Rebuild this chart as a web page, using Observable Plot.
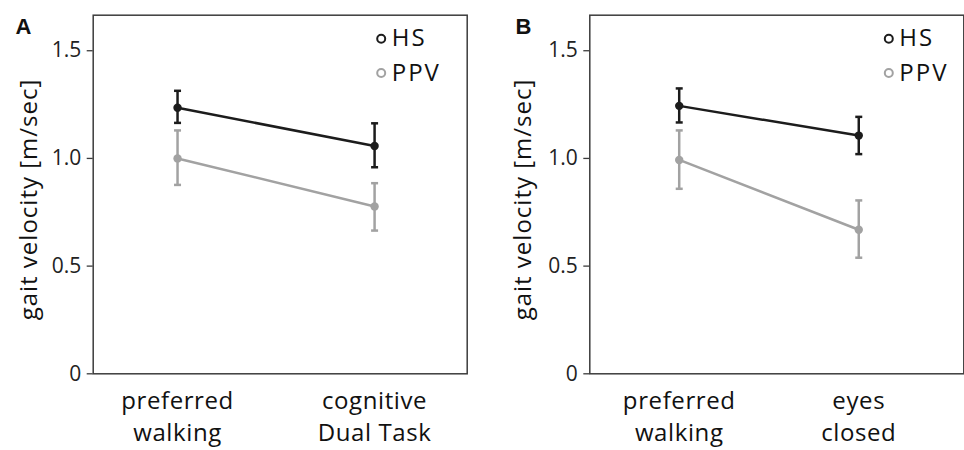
<!DOCTYPE html>
<html>
<head>
<meta charset="utf-8">
<script src="https://cdn.jsdelivr.net/npm/d3@7"></script>
<script src="https://cdn.jsdelivr.net/npm/@observablehq/plot@0.6"></script>
<style>
  html, body { margin: 0; padding: 0; background: white; }
  #wrap { position: relative; width: 964px; height: 450px; overflow: hidden; }
  #wrap > div { position: absolute; top: 0; }
  .ylab text { letter-spacing: 1px; }
  .xlab text { letter-spacing: 0.6px; }
  .leg text { letter-spacing: 2px; }
</style>
</head>
<body>
<div id="wrap"><div id="pa" style="left:0"></div><div id="pb" style="left:482px"></div></div>
<script>
// ---- data ----
const groups = ["HS", "PPV"];
const categoriesA = ["preferred\nwalking", "cognitive\nDual Task"];
const categoriesB = ["preferred\nwalking", "eyes\nclosed"];

const hsMeanA = [1.235, 1.058];
const hsLowA = [1.165, 0.959];
const hsHighA = [1.314, 1.163];
const ppvMeanA = [1.0, 0.777];
const ppvLowA = [0.877, 0.665];
const ppvHighA = [1.13, 0.885];

const hsMeanB = [1.244, 1.106];
const hsLowB = [1.167, 1.02];
const hsHighB = [1.325, 1.193];
const ppvMeanB = [0.993, 0.669];
const ppvLowB = [0.859, 0.539];
const ppvHighB = [1.13, 0.805];

const yTicks = [0, 0.5, 1.0, 1.5];
const yTickLabels = ["0", "0.5", "1.0", "1.5"];
const yLabel = "gait velocity [m/sec]";

// ---- styling ----
const colors = ["#1c1c1c", "#a2a2a2"];
const capSymbol = {draw(ctx) { ctx.moveTo(-3.5, 0); ctx.lineTo(3.5, 0); }};

function rowsFor(means, lows, highs, group) {
  return means.map((m, i) => ({i, group, mean: m, low: lows[i], high: highs[i]}));
}

function panel(cfg) {
  const rows = [
    ...rowsFor(cfg.hs[0], cfg.hs[1], cfg.hs[2], "HS"),
    ...rowsFor(cfg.ppv[0], cfg.ppv[1], cfg.ppv[2], "PPV")
  ];
  return Plot.plot({
    width: 482,
    height: 450,
    marginLeft: cfg.ml,
    marginRight: cfg.mr,
    marginTop: 14.7,
    marginBottom: 76.7,
    style: {fontFamily: "Open Sans", color: "#1a1a1a", background: "white", overflow: "visible"},
    x: {type: "linear", domain: cfg.xDomain, axis: null},
    y: {domain: [0, 1.665], axis: null},
    color: {domain: groups, range: colors},
    marks: [
      Plot.frame({stroke: "#3c3c3c", strokeWidth: 1.5}),
      Plot.axisY({ticks: yTicks, tickFormat: d => yTickLabels[yTicks.indexOf(d)], tickSize: 6, tickPadding: 6,
        fontSize: 21, label: null, stroke: "#3c3c3c", strokeWidth: 1.3, fill: "#222"}),
      Plot.text([yLabel], {frameAnchor: "left", textAnchor: "middle", lineAnchor: "middle", rotate: -90,
        dx: cfg.labelDx, dy: 5, fontSize: 24, fill: "#111", className: "ylab"}),
      Plot.text(cfg.categories, {x: (d, i) => i, frameAnchor: "bottom", textAnchor: "middle", lineAnchor: "top", dy: 11.7,
        lineHeight: 1.35, fontSize: 24, fill: "#111", className: "xlab"}),
      Plot.ruleX(rows, {x: "i", y1: "low", y2: "high", stroke: "group", strokeWidth: 2.5}),
      Plot.dot(rows, {x: "i", y: "low", symbol: capSymbol, stroke: "group", strokeWidth: 2.5, fill: "none"}),
      Plot.dot(rows, {x: "i", y: "high", symbol: capSymbol, stroke: "group", strokeWidth: 2.5, fill: "none"}),
      Plot.line(rows, {x: "i", y: "mean", z: "group", stroke: "group", strokeWidth: 2.5}),
      Plot.dot(rows, {x: "i", y: "mean", fill: "group", r: 4.2}),
      // legend
      Plot.dot([groups[0]], {frameAnchor: "top-right", dx: cfg.legDx, dy: 23.6, r: 4, stroke: colors[0], strokeWidth: 2, fill: "none"}),
      Plot.text([groups[0]], {frameAnchor: "top-right", dx: cfg.legDx + 10.5, dy: 23.6, textAnchor: "start", lineAnchor: "middle",
        fontSize: 24, fill: "#111", className: "leg"}),
      Plot.dot([groups[1]], {frameAnchor: "top-right", dx: cfg.legDx, dy: 57.8, r: 4, stroke: colors[1], strokeWidth: 2, fill: "none"}),
      Plot.text([groups[1]], {frameAnchor: "top-right", dx: cfg.legDx + 10.5, dy: 57.8, textAnchor: "start", lineAnchor: "middle",
        fontSize: 24, fill: "#111", className: "leg"}),
      // panel letter
      Plot.text([cfg.letter], {frameAnchor: "top-left", dx: cfg.letterDx, dy: 3.6, textAnchor: "start", lineAnchor: "top",
        fontSize: 22, fontWeight: "bold", fontFamily: "Liberation Sans", fill: "#111"})
    ]
  });
}

document.getElementById("pa").appendChild(panel({
  letter: "A", categories: categoriesA,
  hs: [hsMeanA, hsLowA, hsHighA], ppv: [ppvMeanA, ppvLowA, ppvHighA],
  ml: 92.7, mr: 15.3, xDomain: [-0.428, 1.47], labelDx: -64, legDx: -86, letterDx: -77.7
}));
document.getElementById("pb").appendChild(panel({
  letter: "B", categories: categoriesB,
  hs: [hsMeanB, hsLowB, hsHighB], ppv: [ppvMeanB, ppvLowB, ppvHighB],
  ml: 107.3, mr: 0.7, xDomain: [-0.498, 1.585], labelDx: -66.7, legDx: -75, letterDx: -74.3
}));
</script>
</body>
</html>
